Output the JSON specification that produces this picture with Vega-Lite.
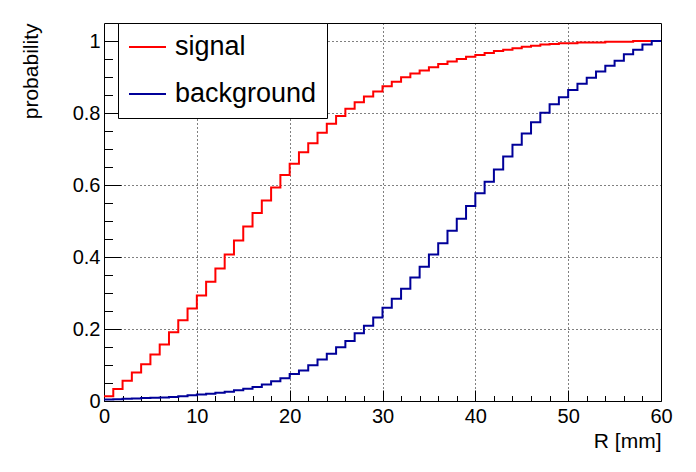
{
  "$schema": "https://vega.github.io/schema/vega-lite/v6.json",
  "width": 557,
  "height": 378,
  "autosize": {"type": "none"},
  "padding": {"left": 104, "top": 23, "right": 35, "bottom": 71},
  "background": "white",
  "config": {
    "font": "Liberation Sans",
    "view": {"stroke": "black", "strokeWidth": 1},
    "axis": {"domain": false}
  },
  "data": {
    "values": [
      {"R": 0, "p": 0.013, "s": "signal"}, {"R": 1, "p": 0.033, "s": "signal"}, {"R": 2, "p": 0.056, "s": "signal"}, {"R": 3, "p": 0.079, "s": "signal"}, {"R": 4, "p": 0.102, "s": "signal"}, {"R": 5, "p": 0.129, "s": "signal"}, {"R": 6, "p": 0.157, "s": "signal"}, {"R": 7, "p": 0.191, "s": "signal"}, {"R": 8, "p": 0.224, "s": "signal"}, {"R": 9, "p": 0.257, "s": "signal"},
      {"R": 10, "p": 0.293, "s": "signal"}, {"R": 11, "p": 0.331, "s": "signal"}, {"R": 12, "p": 0.368, "s": "signal"}, {"R": 13, "p": 0.407, "s": "signal"}, {"R": 14, "p": 0.446, "s": "signal"}, {"R": 15, "p": 0.485, "s": "signal"}, {"R": 16, "p": 0.522, "s": "signal"}, {"R": 17, "p": 0.557, "s": "signal"}, {"R": 18, "p": 0.593, "s": "signal"}, {"R": 19, "p": 0.628, "s": "signal"},
      {"R": 20, "p": 0.659, "s": "signal"}, {"R": 21, "p": 0.691, "s": "signal"}, {"R": 22, "p": 0.716, "s": "signal"}, {"R": 23, "p": 0.745, "s": "signal"}, {"R": 24, "p": 0.770, "s": "signal"}, {"R": 25, "p": 0.792, "s": "signal"}, {"R": 26, "p": 0.812, "s": "signal"}, {"R": 27, "p": 0.830, "s": "signal"}, {"R": 28, "p": 0.846, "s": "signal"}, {"R": 29, "p": 0.860, "s": "signal"},
      {"R": 30, "p": 0.874, "s": "signal"}, {"R": 31, "p": 0.887, "s": "signal"}, {"R": 32, "p": 0.899, "s": "signal"}, {"R": 33, "p": 0.910, "s": "signal"}, {"R": 34, "p": 0.918, "s": "signal"}, {"R": 35, "p": 0.927, "s": "signal"}, {"R": 36, "p": 0.936, "s": "signal"}, {"R": 37, "p": 0.943, "s": "signal"}, {"R": 38, "p": 0.950, "s": "signal"}, {"R": 39, "p": 0.956, "s": "signal"},
      {"R": 40, "p": 0.961, "s": "signal"}, {"R": 41, "p": 0.967, "s": "signal"}, {"R": 42, "p": 0.972, "s": "signal"}, {"R": 43, "p": 0.976, "s": "signal"}, {"R": 44, "p": 0.980, "s": "signal"}, {"R": 45, "p": 0.984, "s": "signal"}, {"R": 46, "p": 0.987, "s": "signal"}, {"R": 47, "p": 0.990, "s": "signal"}, {"R": 48, "p": 0.992, "s": "signal"}, {"R": 49, "p": 0.994, "s": "signal"},
      {"R": 50, "p": 0.994, "s": "signal"}, {"R": 51, "p": 0.996, "s": "signal"}, {"R": 52, "p": 0.996, "s": "signal"}, {"R": 53, "p": 0.996, "s": "signal"}, {"R": 54, "p": 0.998, "s": "signal"}, {"R": 55, "p": 0.998, "s": "signal"}, {"R": 56, "p": 0.998, "s": "signal"}, {"R": 57, "p": 1.0, "s": "signal"}, {"R": 58, "p": 1.0, "s": "signal"}, {"R": 59, "p": 1.0, "s": "signal"}, {"R": 60, "p": 1.0, "s": "signal"},
      {"R": 0, "p": 0.004, "s": "background"}, {"R": 1, "p": 0.005, "s": "background"}, {"R": 2, "p": 0.006, "s": "background"}, {"R": 3, "p": 0.007, "s": "background"}, {"R": 4, "p": 0.008, "s": "background"}, {"R": 5, "p": 0.009, "s": "background"}, {"R": 6, "p": 0.010, "s": "background"}, {"R": 7, "p": 0.011, "s": "background"}, {"R": 8, "p": 0.013, "s": "background"}, {"R": 9, "p": 0.016, "s": "background"},
      {"R": 10, "p": 0.018, "s": "background"}, {"R": 11, "p": 0.020, "s": "background"}, {"R": 12, "p": 0.023, "s": "background"}, {"R": 13, "p": 0.026, "s": "background"}, {"R": 14, "p": 0.030, "s": "background"}, {"R": 15, "p": 0.034, "s": "background"}, {"R": 16, "p": 0.039, "s": "background"}, {"R": 17, "p": 0.046, "s": "background"}, {"R": 18, "p": 0.055, "s": "background"}, {"R": 19, "p": 0.063, "s": "background"},
      {"R": 20, "p": 0.075, "s": "background"}, {"R": 21, "p": 0.085, "s": "background"}, {"R": 22, "p": 0.099, "s": "background"}, {"R": 23, "p": 0.115, "s": "background"}, {"R": 24, "p": 0.131, "s": "background"}, {"R": 25, "p": 0.149, "s": "background"}, {"R": 26, "p": 0.167, "s": "background"}, {"R": 27, "p": 0.188, "s": "background"}, {"R": 28, "p": 0.209, "s": "background"}, {"R": 29, "p": 0.232, "s": "background"},
      {"R": 30, "p": 0.259, "s": "background"}, {"R": 31, "p": 0.284, "s": "background"}, {"R": 32, "p": 0.312, "s": "background"}, {"R": 33, "p": 0.343, "s": "background"}, {"R": 34, "p": 0.373, "s": "background"}, {"R": 35, "p": 0.407, "s": "background"}, {"R": 36, "p": 0.438, "s": "background"}, {"R": 37, "p": 0.473, "s": "background"}, {"R": 38, "p": 0.506, "s": "background"}, {"R": 39, "p": 0.542, "s": "background"},
      {"R": 40, "p": 0.577, "s": "background"}, {"R": 41, "p": 0.609, "s": "background"}, {"R": 42, "p": 0.643, "s": "background"}, {"R": 43, "p": 0.679, "s": "background"}, {"R": 44, "p": 0.712, "s": "background"}, {"R": 45, "p": 0.743, "s": "background"}, {"R": 46, "p": 0.774, "s": "background"}, {"R": 47, "p": 0.801, "s": "background"}, {"R": 48, "p": 0.824, "s": "background"}, {"R": 49, "p": 0.844, "s": "background"},
      {"R": 50, "p": 0.864, "s": "background"}, {"R": 51, "p": 0.881, "s": "background"}, {"R": 52, "p": 0.898, "s": "background"}, {"R": 53, "p": 0.915, "s": "background"}, {"R": 54, "p": 0.931, "s": "background"}, {"R": 55, "p": 0.945, "s": "background"}, {"R": 56, "p": 0.963, "s": "background"}, {"R": 57, "p": 0.976, "s": "background"}, {"R": 58, "p": 0.990, "s": "background"}, {"R": 59, "p": 1.0, "s": "background"}, {"R": 60, "p": 1.0, "s": "background"}
    ]
  },
  "mark": {"type": "line", "interpolate": "step-after", "strokeWidth": 2, "clip": true},
  "encoding": {
    "x": {
      "field": "R", "type": "quantitative",
      "scale": {"domain": [0, 60], "nice": false, "zero": false},
      "axis": {
        "title": "R [mm]",
        "titleFontSize": 21, "titleFontWeight": "normal", "titleColor": "black",
        "titleAlign": "right", "titleBaseline": "alphabetic", "titleAnchor": "end",
        "titleX": 557, "titleY": 46,
        "values": [0, 2, 4, 6, 8, 10, 12, 14, 16, 18, 20, 22, 24, 26, 28, 30, 32, 34, 36, 38, 40, 42, 44, 46, 48, 50, 52, 54, 56, 58, 60],
        "labelExpr": "datum.value % 10 === 0 ? datum.label : ''",
        "labelFontSize": 20, "labelColor": "black",
        "labelBaseline": "alphabetic", "labelPadding": 32,
        "labelFlush": false, "labelOverlap": false, "labelBound": false,
        "tickColor": "black", "tickWidth": 1,
        "tickSize": {"condition": {"test": "datum.value % 10 === 0", "value": -11}, "value": -5.5},
        "grid": true, "gridColor": "black", "gridDash": [1, 3], "gridWidth": 1,
        "gridOpacity": {"condition": {"test": "datum.value % 10 === 0 && datum.value > 0 && datum.value < 60", "value": 1}, "value": 0}
      }
    },
    "y": {
      "field": "p", "type": "quantitative",
      "scale": {"domain": [0, 1.05], "nice": false, "zero": false},
      "axis": {
        "title": "probability",
        "titleFontSize": 21, "titleFontWeight": "normal", "titleColor": "black",
        "titleAngle": 270, "titleAlign": "right", "titleBaseline": "alphabetic",
        "titleX": -67, "titleY": 0,
        "values": [0, 0.05, 0.1, 0.15, 0.2, 0.25, 0.3, 0.35, 0.4, 0.45, 0.5, 0.55, 0.6, 0.65, 0.7, 0.75, 0.8, 0.85, 0.9, 0.95, 1],
        "labelExpr": "abs(datum.value * 5 - round(datum.value * 5)) < 1e-6 ? format(datum.value, '~g') : ''",
        "labelFontSize": 20, "labelColor": "black",
        "labelPadding": 21, "labelBaseline": "middle",
        "labelFlush": false, "labelOverlap": false, "labelBound": false,
        "tickColor": "black", "tickWidth": 1,
        "tickSize": {"condition": {"test": "abs(datum.value * 5 - round(datum.value * 5)) < 1e-6", "value": -17}, "value": -8.5},
        "grid": true, "gridColor": "black", "gridDash": [1, 3], "gridWidth": 1,
        "gridOpacity": {"condition": {"test": "abs(datum.value * 5 - round(datum.value * 5)) < 1e-6 && datum.value > 0", "value": 1}, "value": 0}
      }
    },
    "color": {
      "field": "s", "type": "nominal",
      "scale": {"domain": ["signal", "background"], "range": ["#ff0000", "#000099"]},
      "legend": {
        "title": null,
        "orient": "none", "legendX": 14, "legendY": 0,
        "symbolType": "stroke", "symbolSize": 1369, "symbolStrokeWidth": 2,
        "labelFontSize": 27, "labelColor": "black", "labelOffset": 8,
        "clipHeight": 28, "rowPadding": 19, "padding": 10,
        "strokeColor": "black", "fillColor": "white", "cornerRadius": 0
      }
    }
  }
}
